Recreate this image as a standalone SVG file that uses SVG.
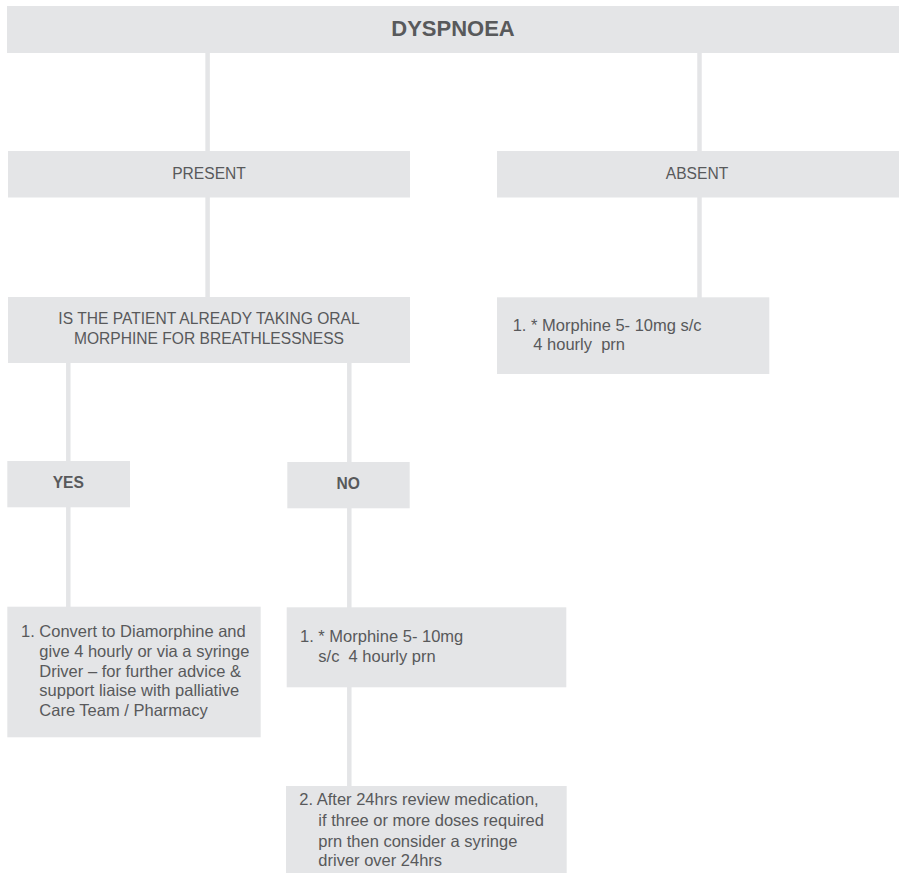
<svg xmlns="http://www.w3.org/2000/svg" width="899" height="873" viewBox="0 0 899 873">
<style>
.box{fill:#e4e5e7}
.con{stroke:#e4e5e7;stroke-width:4.5;fill:none}
text{font-family:"Liberation Sans",Arial,sans-serif;fill:#58595b;white-space:pre}
.h{font-size:15.6px;text-anchor:middle}
.hb{font-size:15.6px;text-anchor:middle;font-weight:bold}
.t{font-size:16.5px}
.title{font-size:22px;font-weight:bold;text-anchor:middle}
</style>
<rect width="899" height="873" fill="#ffffff"/>
<g id="connectors">
<line class="con" x1="207.6" y1="52" x2="207.6" y2="152"/>
<line class="con" x1="699.5" y1="52" x2="699.5" y2="152"/>
<line class="con" x1="207.6" y1="196" x2="207.6" y2="298"/>
<line class="con" x1="699.5" y1="196" x2="699.5" y2="298"/>
<line class="con" x1="68.3" y1="362" x2="68.3" y2="462"/>
<line class="con" x1="349.3" y1="362" x2="349.3" y2="463"/>
<line class="con" x1="68.3" y1="506" x2="68.3" y2="608"/>
<line class="con" x1="349.3" y1="507" x2="349.3" y2="608"/>
<line class="con" x1="349.3" y1="686" x2="349.3" y2="787"/>
</g>
<g id="dyspnoea">
<rect class="box" x="7" y="6" width="892" height="47"/>
<text class="title" x="453" y="35.5">DYSPNOEA</text>
</g>
<g id="present">
<rect class="box" x="8" y="151" width="402" height="46.5"/>
<text class="h" x="209" y="179.3">PRESENT</text>
</g>
<g id="absent">
<rect class="box" x="497" y="151" width="402" height="46.5"/>
<text class="h" x="697" y="179.3">ABSENT</text>
</g>
<g id="question">
<rect class="box" x="8" y="297" width="402" height="66"/>
<text class="h" x="209" y="324.3">IS THE PATIENT ALREADY TAKING ORAL</text>
<text class="h" x="209" y="344">MORPHINE FOR BREATHLESSNESS</text>
</g>
<g id="absent-morphine">
<rect class="box" x="497" y="297.3" width="272.3" height="76.7"/>
<text class="t" x="512.7" y="330.7">1. * Morphine 5- 10mg s/c</text>
<text class="t" x="533.3" y="350">4 hourly  prn</text>
</g>
<g id="yes">
<rect class="box" x="7.3" y="461" width="122.7" height="46.3"/>
<text class="hb" x="68.3" y="488.3">YES</text>
</g>
<g id="no">
<rect class="box" x="287.3" y="462" width="122.4" height="46.3"/>
<text class="hb" x="348.3" y="489">NO</text>
</g>
<g id="convert">
<rect class="box" x="7.3" y="606.7" width="253.4" height="130.6"/>
<text class="t" x="21" y="637.3">1. Convert to Diamorphine and</text>
<text class="t" x="39.3" y="657">give 4 hourly or via a syringe</text>
<text class="t" x="39.3" y="676.7">Driver – for further advice &amp;</text>
<text class="t" x="39.3" y="696.3">support liaise with palliative</text>
<text class="t" x="39.3" y="716">Care Team / Pharmacy</text>
</g>
<g id="no-morphine">
<rect class="box" x="286.7" y="607.3" width="279.6" height="80"/>
<text class="t" x="300" y="642.3">1. * Morphine 5- 10mg</text>
<text class="t" x="318.3" y="661.5">s/c  4 hourly prn</text>
</g>
<g id="review">
<rect class="box" x="286" y="786" width="280.7" height="87"/>
<text class="t" x="299.3" y="805.3">2. After 24hrs review medication,</text>
<text class="t" x="318.3" y="826">if three or more doses required</text>
<text class="t" x="318.3" y="846.5">prn then consider a syringe</text>
<text class="t" x="318.3" y="865.5">driver over 24hrs</text>
</g>
</svg>
